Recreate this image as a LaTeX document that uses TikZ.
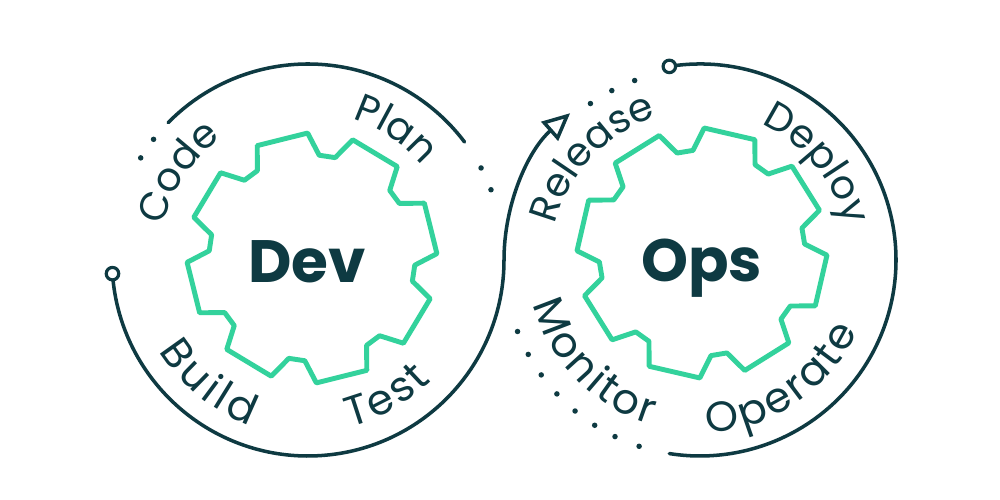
\documentclass[tikz,border=0pt]{standalone}
\usepackage{fontspec}
\setmainfont{Poppins}
\usetikzlibrary{decorations.text,arrows.meta,calc}
\definecolor{dark}{HTML}{0E3A42}
\definecolor{gearg}{HTML}{33D29C}
\newcommand\topfont{\fontsize{22.5}{27}\selectfont}
\newcommand\botfont{\fontsize{24}{29}\selectfont}
\newcommand\tka{\kern1.6pt}
\newcommand\tkb{\kern2.6pt}
\newcommand\toplbl[4]{\path[decorate, decoration={text along path, text align=center, text color=dark, text={|\topfont|#4}}] ($(#1)+({#2+50}:#3)$) arc[start angle={#2+50}, end angle={#2-50}, radius=#3];}
\newcommand\botlbl[4]{\path[decorate, decoration={text along path, text align=center, text color=dark, text={|\botfont|#4}}] ($(#1)+({#2-50}:#3)$) arc[start angle={#2-50}, end angle={#2+50}, radius=#3];}
\begin{document}
\begin{tikzpicture}[
  ringline/.style={draw=dark, line width=2pt, line cap=round},
  gearline/.style={draw=gearg, line width=2.8pt, line join=round},
  marker/.style={circle, draw=dark, fill=white, line width=1.8pt, inner sep=0pt, minimum size=0.25cm},
  dotmark/.style={fill=dark},
  bigword/.style={text=dark, font=\fontsize{34}{40}\selectfont\bfseries, anchor=base},
]
\useasboundingbox[fill=white] (0,0) rectangle (20,10);
\coordinate (c1) at (6.16,4.8);
\coordinate (c2) at (14.0,4.8);
\coordinate (g1) at (6.24,4.84);
\coordinate (g2) at (14.04,4.94);

% gears
\draw[gearline, shift={(g1)}] ({14-18}:2.06) \foreach \k in {0,...,7}{ -- ({14+45*\k-18}:2.06) -- ({14+45*\k-12}:2.5) -- ({14+45*\k+12}:2.5) -- ({14+45*\k+18}:2.06)} -- cycle;
\draw[gearline, shift={(g2)}] ({32-18}:2.06) \foreach \k in {0,...,7}{ -- ({32+45*\k-18}:2.06) -- ({32+45*\k-12}:2.5) -- ({32+45*\k+12}:2.5) -- ({32+45*\k+18}:2.06)} -- cycle;

% Dev top arc and dots
\draw[ringline] ($(c1)+(135.5:3.92)$) arc[start angle=135.5, end angle=37, radius=3.92];
\foreach \a in {142,148.6,28,21} \fill[dotmark] ($(c1)+(\a:3.92)$) circle (0.055);

% main S curve
\coordinate (p1) at ($(c1)+(184:3.92)$);
\draw[ringline, -{Triangle[open, length=0.55cm, width=0.5cm]}] (p1) arc[start angle=184, end angle=360, radius=3.92] arc[start angle=180, end angle=131.5, radius=3.92];
\node[marker] (m1) at (p1) {};

% Ops arc
\coordinate (p2) at ($(c2)+(99:3.92)$);
\draw[ringline] (p2) arc[start angle=99, end angle=-99, radius=3.92];
\node[marker] (m2) at (p2) {};
\foreach \a in {110,117.5,125} \fill[dotmark] ($(c2)+(\a:3.82)$) circle (0.055);
\foreach \a in {201.4,208.8,215.9,223.1,230.4,237.5,244.3,251.9} \fill[dotmark] ($(c2)+(\a:3.92)$) circle (0.055);

% centre words
\node[bigword] (dev) at (6.14,4.34) {Dev};
\node[bigword] (ops) at (14.03,4.36) {Ops};

% labels
\toplbl{c1}{146}{2.98}{Code}
\toplbl{c1}{56}{2.96}{Plan}
\botlbl{c1}{231}{3.5}{B{\tkb}u{\tkb}i{\tkb}l{\tkb}d}
\botlbl{c1}{300}{3.45}{T{\tka}e{\tka}s{\tka}t}
\toplbl{c2}{136.6}{2.98}{Release}
\toplbl{c2}{39.5}{2.98}{Deploy}
\botlbl{c2}{224}{3.44}{M{\tka}o{\tka}n{\tka}i{\tka}t{\tka}o{\tka}r}
\botlbl{c2}{304}{3.46}{O{\tka}p{\tka}e{\tka}r{\tka}a{\tka}t{\tka}e}
\end{tikzpicture}
\end{document}
